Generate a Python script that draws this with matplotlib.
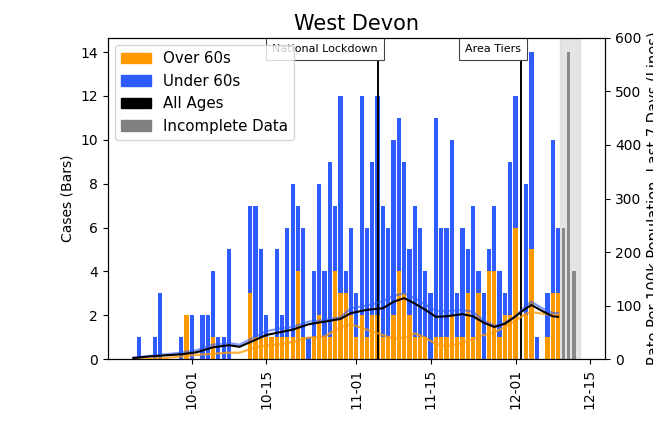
import matplotlib
matplotlib.use("Agg")
import matplotlib.pyplot as plt
import matplotlib.dates as mdates
from matplotlib.patches import Patch
import pandas as pd
import numpy as np

# ---- Data ----
bar_start = "2020-09-21"
total_cases = [1, 0, 0, 1, 3, 0, 0, 0, 1, 2,                       # Sep 21-30
               2, 0, 2, 2, 4, 1, 1, 5, 0, 0, 0, 7, 7, 5, 2, 1, 5, 2, 6, 8,
               7, 6, 1, 4, 8, 4, 9, 7, 12, 4, 6,                    # Oct
               3, 12, 6, 9, 12, 7, 6, 10, 11, 9, 5, 7, 6, 4, 3, 11, 6, 6, 10, 3,
               6, 5, 7, 4, 3, 5, 7, 4, 3, 9,                        # Nov
               12, 0, 8, 14, 1, 0, 3, 10, 6]                        # Dec 1-9
over60_cases = [0, 0, 0, 0, 0, 0, 0, 0, 0, 2,
                0, 0, 0, 0, 1, 0, 0, 0, 0, 0, 0, 3, 1, 1, 1, 1, 1, 1, 1, 1,
                4, 1, 0, 1, 2, 1, 1, 4, 3, 3, 2,
                1, 2, 1, 2, 2, 1, 1, 2, 4, 3, 2, 1, 1, 1, 0, 1, 1, 1, 2, 1,
                1, 3, 1, 3, 0, 4, 4, 1, 2, 2,
                6, 0, 2, 5, 0, 0, 1, 3, 3]
incomplete_dates = ["2020-12-10", "2020-12-11", "2020-12-12"]
incomplete_cases = [6, 14, 4]

line_dates = ["2020-09-20", "2020-09-23", "2020-09-26", "2020-09-29", "2020-10-02",
              "2020-10-05", "2020-10-08", "2020-10-10", "2020-10-13", "2020-10-15",
              "2020-10-18", "2020-10-20", "2020-10-23", "2020-10-26", "2020-10-29",
              "2020-10-31", "2020-11-03", "2020-11-06", "2020-11-08", "2020-11-10",
              "2020-11-12", "2020-11-14", "2020-11-16", "2020-11-18", "2020-11-21",
              "2020-11-23", "2020-11-25", "2020-11-27", "2020-11-29", "2020-12-01",
              "2020-12-03", "2020-12-04", "2020-12-06", "2020-12-08", "2020-12-09"]
rate_all = [2, 5, 7, 9, 13, 22, 26, 23, 36, 45, 51, 55, 65, 70, 75, 86, 92, 95, 107, 114,
            104, 92, 79, 80, 84, 80, 68, 60, 66, 80, 95, 101, 90, 80, 79]
rate_under60 = [3, 6, 9, 12, 17, 27, 30, 27, 42, 52, 58, 60, 70, 73, 78, 95, 100, 108, 118, 123,
                114, 102, 90, 90, 92, 88, 72, 62, 68, 80, 100, 107, 95, 86, 86]
rate_over60 = [0, 1, 2, 5, 8, 10, 12, 12, 22, 25, 28, 32, 40, 42, 60, 65, 55, 45, 38, 40,
               48, 40, 28, 24, 30, 38, 45, 50, 60, 72, 85, 88, 85, 82, 80]

events = ["National Lockdown", "Area Tiers"]
event_dates = ["2020-11-05", "2020-12-02"]
shade_range = ["2020-12-09 08:00", "2020-12-13 05:00"]

# ---- Plot ----
C_OVER = "#ff9900"
C_UNDER = "#2f5cff"

bar_dates = pd.date_range(bar_start, periods=len(total_cases), freq="D")
total = np.array(total_cases)
over = np.array(over60_cases)
under = total - over

fig = plt.figure(figsize=(6.53, 4.21), dpi=100)
ax = fig.add_axes([0.165, 0.147, 0.762, 0.763])
ax2 = ax.twinx()

ax.bar(bar_dates, over, width=0.8, color=C_OVER, zorder=2)
ax.bar(bar_dates, under, bottom=over, width=0.8, color=C_UNDER, zorder=2)
ax.bar(pd.to_datetime(incomplete_dates), incomplete_cases, width=0.6, color="gray", alpha=0.9, zorder=2)
ax.axvspan(pd.Timestamp(shade_range[0]), pd.Timestamp(shade_range[1]), color="lightgray", alpha=0.6, zorder=1)

ld = pd.to_datetime(line_dates)
ax2.plot(ld, rate_over60, color=C_OVER, lw=1.6, alpha=0.75)
ax2.plot(ld, rate_under60, color=C_UNDER, lw=1.6, alpha=0.6)
ax2.plot(ld, rate_all, color="black", lw=1.5)

for name, d in zip(events, event_dates):
    dt = pd.Timestamp(d)
    ax.axvline(dt, color="black", lw=1.4, zorder=3)
    ax.text(dt, 0.98, name, transform=ax.get_xaxis_transform(), ha="right", va="top",
            fontsize=8, zorder=4,
            bbox=dict(boxstyle="square,pad=0.55", facecolor="white", edgecolor="#444444", lw=0.8))

ax.set_xlim(pd.Timestamp("2020-09-15 04:00"), pd.Timestamp("2020-12-17 22:00"))
ax.set_ylim(0, 14.65)
ax2.set_ylim(0, 600)
ax.xaxis.set_major_locator(mdates.DayLocator(bymonthday=[1, 15]))
ax.xaxis.set_major_formatter(mdates.DateFormatter("%m-%d"))
plt.setp(ax.get_xticklabels(), rotation=90)
ax.set_yticks(range(0, 15, 2))
ax2.set_yticks(range(0, 601, 100))

ax.set_ylabel("Cases (Bars)", fontsize=10)
ax2.set_ylabel("Rate Per 100k Population, Last 7 Days (Lines)", fontsize=10.5)
ax.set_title("West Devon", fontsize=15)

handles = [Patch(color=C_OVER, label="Over 60s"), Patch(color=C_UNDER, label="Under 60s"),
           Patch(color="black", label="All Ages"), Patch(color="gray", label="Incomplete Data")]
leg = ax.legend(handles=handles, loc="upper left", fontsize=10.8)
leg.set_zorder(10)

fig.savefig("out.png", dpi=100)
